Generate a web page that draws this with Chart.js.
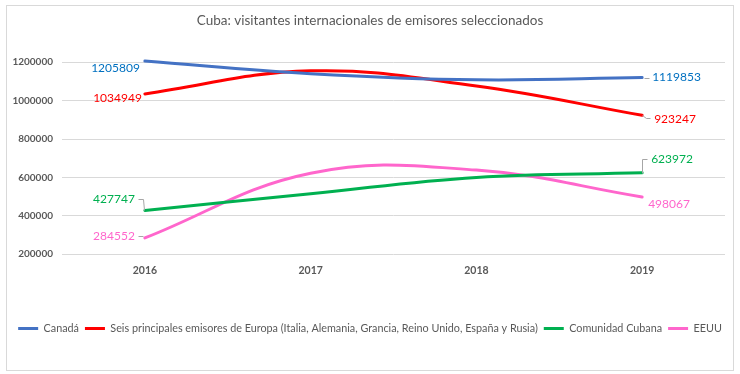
<!DOCTYPE html>
<html>
<head>
<meta charset="utf-8">
<script src="https://cdn.jsdelivr.net/npm/chart.js@4.4.1/dist/chart.umd.min.js"></script>
<style>
  html, body { margin: 0; padding: 0; background: #fff; }
  #frame {
    position: absolute; left: 6px; top: 5px;
    width: 726px; height: 364px;
    border: 1px solid #d9d9d9;
  }
  #wrap { position: absolute; left: 0; top: 0; width: 740px; height: 374px; }
</style>
</head>
<body>
<div id="frame"></div>
<div id="wrap"><canvas id="chart" width="740" height="374"></canvas></div>
<script>
const years     = ['2016', '2017', '2018', '2019'];
const canada    = [1205809, 1140000, 1108000, 1119853];
const europa    = [1034949, 1155000, 1076000, 923247];
const comunidad = [427747, 515000, 600000, 623972];
const eeuu      = [284552, 622000, 638000, 498067];

const seriesNames = [
  'Canadá',
  'Seis principales emisores de Europa (Italia, Alemania, Grancia, Reino Unido, España y Rusia)',
  'Comunidad Cubana',
  'EEUU'
];

const yTicks = [200000, 400000, 600000, 800000, 1000000, 1200000];

const FONT = "Lato, 'Liberation Sans', sans-serif";
const GREY_TEXT = '#595959';

const CANADA_COLOR = '#4472C4';
const EUROPA_COLOR = '#FF0000';
const CUBANA_COLOR = '#00B050';
const EEUU_COLOR   = '#FF66CC';

// label placement for first / last point of each series (pixel offsets from the point)
const labelStyles = [
  { color: '#0070C0', first: { dx: -5, dy: 7, align: 'right' },
                      last:  { dx: 10, dy: 0, align: 'left', leader: [[2, 0], [7, 0]] } },
  { color: '#FF0000', first: { dx: -3, dy: 4, align: 'right' },
                      last:  { dx: 12, dy: 4, align: 'left', leader: [[0, 0], [4, 3], [8, 3]] } },
  { color: '#00B050', first: { dx: -10, dy: -11, align: 'right', leader: [[-7, -11], [-2, -11], [-1, 0]] },
                      last:  { dx: 9, dy: -14, align: 'left', leader: [[0, 0], [0, -14], [5, -14]] } },
  { color: '#FF66CC', first: { dx: -10, dy: -2, align: 'right', leader: [[-7, -2], [-2, -2]] },
                      last:  { dx: 6, dy: 7, align: 'left' } },
];

const endLabels = {
  id: 'endLabels',
  afterDatasetsDraw(chart) {
    const ctx = chart.ctx;
    ctx.save();
    ctx.font = `12px ${FONT}`;
    ctx.textBaseline = 'middle';
    chart.data.datasets.forEach((ds, di) => {
      const meta = chart.getDatasetMeta(di);
      const style = labelStyles[di];
      const n = ds.data.length;
      [[0, style.first], [n - 1, style.last]].forEach(([idx, pos]) => {
        const pt = meta.data[idx];
        if (pos.leader) {
          ctx.strokeStyle = '#a6a6a6';
          ctx.lineWidth = 1;
          ctx.beginPath();
          pos.leader.forEach(([lx, ly], k) => {
            const px = Math.round(pt.x + lx) + 0.5, py = Math.round(pt.y + ly) + 0.5;
            if (k === 0) ctx.moveTo(px, py); else ctx.lineTo(px, py);
          });
          ctx.stroke();
        }
        ctx.fillStyle = style.color;
        ctx.textAlign = pos.align;
        ctx.fillText(String(ds.data[idx]), pt.x + pos.dx, pt.y + pos.dy);
      });
    });
    ctx.restore();
  }
};

function makeSeries(label, data, color) {
  return {
    label, data,
    borderColor: color,
    backgroundColor: color,
    borderWidth: 3,
    borderCapStyle: 'round',
    pointRadius: 0,
    pointHoverRadius: 0,
    tension: 0.4,
    fill: false,
    clip: false,
  };
}

new Chart(document.getElementById('chart').getContext('2d'), {
  type: 'line',
  data: {
    labels: years,
    datasets: [
      makeSeries(seriesNames[0], canada, CANADA_COLOR),
      makeSeries(seriesNames[1], europa, EUROPA_COLOR),
      makeSeries(seriesNames[2], comunidad, CUBANA_COLOR),
      makeSeries(seriesNames[3], eeuu, EEUU_COLOR),
    ],
  },
  plugins: [endLabels],
  options: {
    responsive: false,
    animation: false,
    layout: { padding: { left: 0, right: 0, top: 0, bottom: 30 } },
    scales: {
      x: {
        offset: true,
        grid: { display: false, drawTicks: false },
        border: { display: false },
        ticks: { padding: 10, color: GREY_TEXT, font: { family: FONT, size: 10.5, weight: 'bold' } },
        afterFit: s => { s.height = 63; },
      },
      y: {
        min: 200000,
        max: 1200000,
        afterBuildTicks: s => { s.ticks = yTicks.map(v => ({ value: v })); },
        grid: { color: '#d9d9d9', lineWidth: 1, drawTicks: false },
        border: { display: false },
        ticks: {
          padding: 9,
          color: GREY_TEXT,
          font: { family: FONT, size: 10, weight: 'bold' },
          callback: v => String(v),
        },
        afterFit: s => { s.width = 62; },
      },
      // empty right-hand spacer so the plot ends where the reference does
      spacer: {
        type: 'linear',
        position: 'right',
        display: true,
        grid: { display: false, drawTicks: false },
        border: { display: false },
        ticks: { display: false },
        afterFit: s => { s.width = 15; },
      },
    },
    plugins: {
      title: {
        display: true,
        text: 'Cuba: visitantes internacionales de emisores seleccionados',
        color: GREY_TEXT,
        font: { family: FONT, size: 13.5, weight: 'normal' },
        padding: { top: 12.5, bottom: 33.5 },
      },
      legend: {
        position: 'bottom',
        labels: {
          usePointStyle: true,
          pointStyle: 'line',
          pointStyleWidth: 20,
          padding: 6,
          color: GREY_TEXT,
          font: { family: FONT, size: 10.8 },
        },
      },
      tooltip: { enabled: false },
    },
  },
});
</script>
</body>
</html>
